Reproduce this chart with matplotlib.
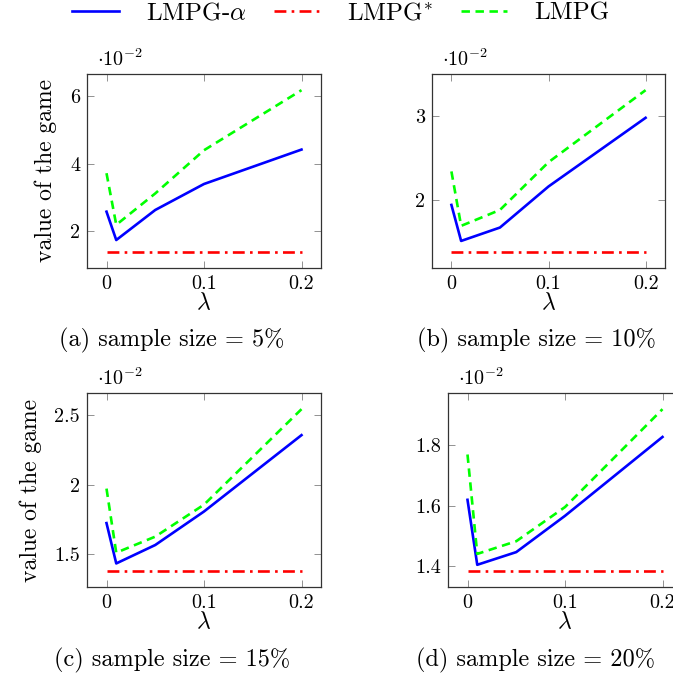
import matplotlib
matplotlib.use('Agg')
import matplotlib.pyplot as plt
from matplotlib.ticker import FuncFormatter, FixedLocator

plt.rcParams['font.family'] = 'serif'
plt.rcParams['font.serif'] = ['cmr10']
plt.rcParams['mathtext.fontset'] = 'cm'
plt.rcParams['axes.formatter.use_mathtext'] = True

# lambda values
lam = [0, 0.01, 0.05, 0.1, 0.2]

# values of the game (x 1e-2), one list per panel
alpha_a = [2.58, 1.74, 2.63, 3.40, 4.42]
star_a = [1.39, 1.39, 1.39, 1.39, 1.39]
lmpg_a = [3.72, 2.19, 3.12, 4.40, 6.18]

alpha_b = [1.94, 1.51, 1.67, 2.16, 2.98]
star_b = [1.38, 1.38, 1.38, 1.38, 1.38]
lmpg_b = [2.34, 1.69, 1.88, 2.45, 3.31]

alpha_c = [1.724, 1.435, 1.567, 1.807, 2.354]
star_c = [1.382, 1.382, 1.382, 1.382, 1.382]
lmpg_c = [1.971, 1.512, 1.627, 1.856, 2.54]

alpha_d = [1.619, 1.404, 1.446, 1.566, 1.827]
star_d = [1.384, 1.384, 1.384, 1.384, 1.384]
lmpg_d = [1.769, 1.44, 1.482, 1.595, 1.919]

yticks_a = [2, 4, 6]
yticks_b = [2, 3]
yticks_c = [1.5, 2, 2.5]
yticks_d = [1.4, 1.6, 1.8]

captions = ['(a) sample size = 5%', '(b) sample size = 10%',
            '(c) sample size = 15%', '(d) sample size = 20%']

W, H = 673, 677
fig = plt.figure(figsize=(W / 100, H / 100), dpi=100)

# axes boxes in pixels: left, top, right, bottom
boxes = [(87, 74, 321, 268), (432, 74, 665, 268),
         (87, 393, 321, 587), (448, 393, 682, 587)]
panels = [(alpha_a, star_a, lmpg_a, yticks_a),
          (alpha_b, star_b, lmpg_b, yticks_b),
          (alpha_c, star_c, lmpg_c, yticks_c),
          (alpha_d, star_d, lmpg_d, yticks_d)]
cap_pos = [(172, 340), (536, 340), (172, 660), (536, 660)]

fmt = FuncFormatter(lambda v, p: '%g' % round(v, 3))

for i, (box, (al, st, lm, yt)) in enumerate(zip(boxes, panels)):
    l, t, r, b = box
    ax = fig.add_axes([l / W, 1 - b / H, (r - l) / W, (b - t) / H])
    ax.plot(lam, al, color=(0, 0, 1), lw=1.9, label=r'LMPG-$\alpha$')
    ax.plot(lam, st, color=(1, 0, 0), lw=1.9, dashes=(4.5, 2.0, 1, 2.0),
            label=r'LMPG$^{*}$')
    ax.plot(lam, lm, color=(0, 1, 0), lw=1.9, dashes=(3.2, 2.1), label='LMPG')

    lo = min(min(al), min(st), min(lm))
    hi = max(max(al), max(st), max(lm))
    pad = 0.1 * (hi - lo)
    ax.set_ylim(lo - pad, hi + pad)
    ax.set_xlim(-0.02, 0.22)
    ax.xaxis.set_major_locator(FixedLocator([0, 0.1, 0.2]))
    ax.yaxis.set_major_locator(FixedLocator(yt))
    ax.xaxis.set_major_formatter(fmt)
    ax.yaxis.set_major_formatter(fmt)
    ax.tick_params(direction='in', length=5, width=0.6, color='#808080',
                   top=True, right=True, labelsize=14.5, pad=5)
    for s in ax.spines.values():
        s.set_linewidth(0.9)
        s.set_color('#333333')
    ax.set_xlabel(r'$\lambda$', fontsize=17, va='center')
    ax.xaxis.set_label_coords(0.5, -35 / (b - t))
    if i % 2 == 0:
        ax.set_ylabel('value of the game', fontsize=17, labelpad=9)
    ax.text(10 / (r - l), 1.02, r'$\cdot 10^{-2}$', transform=ax.transAxes,
            fontsize=14.5, ha='left', va='bottom')
    fig.text(cap_pos[i][0] / W, 1 - cap_pos[i][1] / H, captions[i],
             fontsize=17.5, ha='center', va='center')

h, lbl = ax.get_legend_handles_labels()
fig.legend(h, lbl, loc='center', bbox_to_anchor=(341 / W, 1 - 13 / H),
           ncol=3, frameon=False, fontsize=18, handlelength=1.85,
           columnspacing=1.12, handletextpad=1.08)

fig.savefig('out.png', dpi=100)
